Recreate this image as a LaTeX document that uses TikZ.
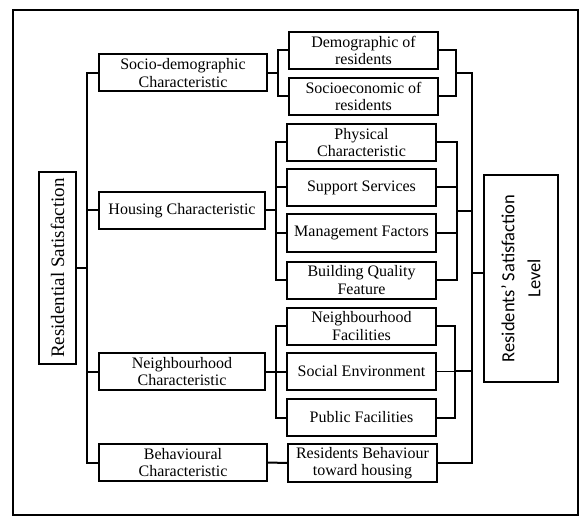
\documentclass[tikz,border=0pt]{standalone}
\usepackage{fontspec}
\setmainfont{Liberation Serif}
\newfontfamily\tnr{Liberation Serif}
\newfontfamily\calib{Carlito}
\begin{document}
\begin{tikzpicture}[x=1bp,y=-1bp,
  box/.style={draw, line width=2bp, inner sep=0pt, align=center,
    font=\tnr\fontsize{16bp}{17.5bp}\selectfont},
  lbox/.style={box, minimum width=168bp, minimum height=37bp},
  sbox/.style={box, minimum width=149bp, minimum height=37bp},
  conn/.style={line width=2bp},
  thin/.style={line width=1.3bp}]
\useasboundingbox (0,0) rectangle (586,523);
\node[draw, line width=2bp, minimum width=565bp, minimum height=505bp, inner sep=0pt] (frame) at (295.5,262.5) {};
% left box
\node[box, rotate=90, minimum width=192bp, minimum height=37bp,
  font=\tnr\fontsize{19bp}{22bp}\selectfont] (RS) at (57.5,268) {Residential Satisfaction};
% level 1
\node[lbox] (SD) at (183,73) {Socio-demographic\\Characteristic};
\node[lbox, minimum width=166bp] (HC) at (182,210.5) {Housing Characteristic};
\node[lbox, minimum width=166bp] (NC) at (182,371.5) {Neighbourhood\\Characteristic};
\node[lbox] (BC) at (183,462.5) {Behavioural\\Characteristic};
% level 2
\node[sbox] (DR) at (363.5,50.5) {Demographic of\\residents};
\node[sbox] (SE) at (363.5,96.5) {Socioeconomic of\\residents};
\node[sbox] (PC) at (361.5,142.5) {Physical\\Characteristic};
\node[sbox] (SS) at (361.5,187.5) {Support Services};
\node[sbox] (MF) at (361.5,233) {Management Factors};
\node[sbox] (BQ) at (361.5,280) {Building Quality\\Feature};
\node[sbox] (NF) at (361.5,326) {Neighbourhood\\Facilities};
\node[sbox] (SoE) at (361.5,371.5) {Social Environment};
\node[sbox] (PF) at (361.5,417.5) {Public Facilities};
\node[sbox, minimum height=38bp] (RB) at (362.5,463) {Residents Behaviour\\toward housing};
% right box
\node[box, rotate=90, minimum width=207bp, minimum height=74bp,
  font=\calib\fontsize{18.5bp}{26bp}\selectfont] (RSL) at (521,278.5) {Residents’ Satisfaction\\Level};
% left trunk
\coordinate (LT) at (87,0);
\draw[conn] (SD.west) -- (SD.west -| LT) -- (BC.west -| LT) -- (BC.west);
\draw[conn] (HC.west) -- (HC.west -| LT);
\draw[conn] (NC.west) -- (NC.west -| LT);
\draw[conn] (RS.south) -- (RS.south -| LT);
% middle junctions
\coordinate (J1) at (278,0);
\draw[conn] (SD.east) -- (SD.east -| J1);
\draw[conn] (DR.west) -- (DR.west -| J1) -- (SE.west -| J1) -- (SE.west);
\coordinate (J2) at (276,0);
\draw[conn] (HC.east) -- (HC.east -| J2);
\draw[conn] (PC.west) -- (PC.west -| J2) -- (BQ.west -| J2) -- (BQ.west);
\draw[conn] (SS.west) -- (SS.west -| J2);
\draw[conn] (MF.west) -- (MF.west -| J2);
\coordinate (J3) at (276,0);
\draw[conn] (NC.east) -- (NC.east -| J3);
\draw[conn] (NF.west) -- (NF.west -| J3) -- (PF.west -| J3) -- (PF.west);
\draw[conn] (SoE.west) -- (SoE.west -| J3);
\draw[conn] (BC.east) -- (RB.west);
% right junctions
\coordinate (K1) at (456,73);
\draw[conn] (DR.east) -- (DR.east -| K1) -- (SE.east -| K1) -- (SE.east);
\coordinate (K2) at (457,211);
\draw[conn] (PC.east) -- (PC.east -| K2) -- (BQ.east -| K2) -- (BQ.east);
\draw[conn] (SS.east) -- (SS.east -| K2);
\draw[conn] (MF.east) -- (MF.east -| K2);
\coordinate (K3) at (455,371);
\draw[conn] (NF.east) -- (NF.east -| K3) -- (PF.east -| K3) -- (PF.east);
\draw[thin] (SoE.east) -- (SoE.east -| K3);
% right trunk
\coordinate (RT) at (472,0);
\draw[conn] (K1) -- (K1 -| RT) -- (RB.east -| RT) -- (RB.east);
\draw[conn] (K2) -- (K2 -| RT);
\draw[thin] (K3) -- (K3 -| RT);
\coordinate (K4) at (472,273);
\draw[thin] (K4) -- (K4 -| RSL.north);
\end{tikzpicture}
\end{document}
